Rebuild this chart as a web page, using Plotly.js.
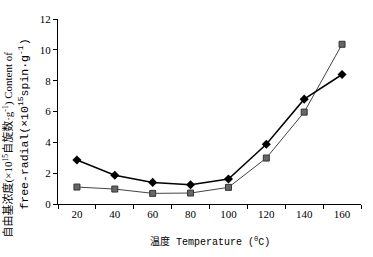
<!DOCTYPE html>
<html><head><meta charset="utf-8">
<script src="https://cdn.plot.ly/plotly-3.0.1.min.js"></script>
<style>html,body{margin:0;padding:0;background:#fff;}#c{width:373px;height:257px;}</style>
</head><body><div id="c"></div>
<script>
var temps = ['20','40','60','80','100','120','140','160'];
var seriesDiamond = [2.85, 1.86, 1.40, 1.25, 1.62, 3.88, 6.80, 8.40];
var seriesSquare = [1.10, 0.97, 0.69, 0.71, 1.08, 2.98, 5.96, 10.36];
var yTicks = [0, 2, 4, 6, 8, 10, 12];

var fontLatin = 'Liberation Serif, Noto Sans CJK SC, serif';
var traces = [
  {x: temps, y: seriesSquare, type: 'scatter', mode: 'lines+markers',
   line: {color: '#444', width: 1},
   marker: {symbol: 'square', size: 6, color: '#666', line: {color: '#333', width: 1}}},
  {x: temps, y: seriesDiamond, type: 'scatter', mode: 'lines+markers',
   line: {color: '#000', width: 1.5},
   marker: {symbol: 'diamond', size: 7, color: '#000'}}
];
var layout = {
  width: 373, height: 257,
  margin: {l: 58, r: 12, t: 19, b: 53},
  paper_bgcolor: '#fff', plot_bgcolor: '#fff',
  showlegend: false,
  font: {family: fontLatin, size: 11, color: '#000'},
  xaxis: {type: 'category', tickson: 'boundaries', ticks: 'outside', ticklen: 4,
    tickcolor: '#000', showline: true, linecolor: '#000', linewidth: 1,
    showgrid: false, zeroline: false, range: [-0.5, 7.5],
    tickfont: {family: fontLatin, size: 11}},
  yaxis: {range: [0, 12], tickvals: yTicks, ticks: 'outside', ticklen: 4,
    tickcolor: '#000', showline: true, linecolor: '#000', linewidth: 1,
    showgrid: false, zeroline: false, tickfont: {family: fontLatin, size: 11}},
  annotations: [
    {text: '温度 Temperature (<sup>0</sup>C)', xref: 'paper', yref: 'paper',
     x: 0.5, y: -0.2, xanchor: 'center', yanchor: 'middle', showarrow: false,
     font: {family: 'Liberation Mono, Noto Sans CJK SC, monospace', size: 10}},
    {text: '自由基浓度(×10<sup>15</sup>自旋数·g<sup>-1</sup>) Content of', xref: 'paper', yref: 'paper',
     x: -0.163, y: 0.32, xanchor: 'center', yanchor: 'middle', showarrow: false, textangle: -90,
     font: {family: fontLatin, size: 11}},
    {text: 'free-radial(×10<sup>15</sup>spin·g<sup>-1</sup>)', xref: 'paper', yref: 'paper',
     x: -0.115, y: 0.43, xanchor: 'center', yanchor: 'middle', showarrow: false, textangle: -90,
     font: {family: 'Liberation Mono, monospace', size: 11.5}}
  ]
};
Plotly.newPlot('c', traces, layout, {staticPlot: true, displayModeBar: false});
</script></body></html>
